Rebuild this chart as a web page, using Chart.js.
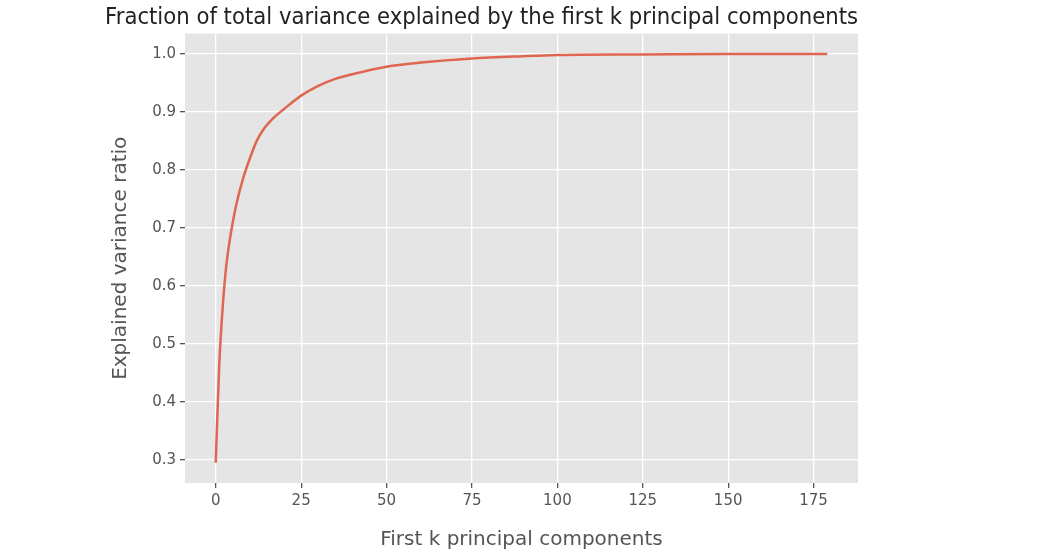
<!DOCTYPE html>
<html>
<head>
<meta charset="utf-8">
<script src="https://cdn.jsdelivr.net/npm/chart.js@4"></script>
<style>
  body { margin: 0; background: #fff; }
</style>
</head>
<body>
<canvas id="pcaChart" width="1044" height="552"></canvas>
<script>
// Components, with the cumulative ratio at each
const components = [0, 1, 2, 3, 4, 5, 6, 8, 10, 12, 14, 17, 20, 25, 30, 35, 40, 50, 60, 75, 90, 100, 125, 150, 179];
const explained = [0.295, 0.46, 0.56, 0.63, 0.675, 0.71, 0.74, 0.785, 0.82, 0.85, 0.87, 0.89, 0.905, 0.928, 0.945, 0.957, 0.965, 0.978, 0.985, 0.992, 0.996, 0.998, 0.999, 1.0, 1.0];
const xTicks = [0, 25, 50, 75, 100, 125, 150, 175];
const yTicks = [0.3, 0.4, 0.5, 0.6, 0.7, 0.8, 0.9, 1.0];

const points = components.map((k, i) => ({ x: k, y: explained[i] }));
const FONT = "'DejaVu Sans', sans-serif";

// gray panel behind the plot, ggplot style
const panelBg = {
    id: 'panelBg',
    beforeDraw(chart) {
        const { ctx, chartArea: a } = chart;
        ctx.save();
        ctx.fillStyle = '#e5e5e5';
        ctx.fillRect(a.left, a.top, a.right - a.left, a.bottom - a.top);
        ctx.restore();
    }
};

const ctx = document.getElementById('pcaChart').getContext('2d');
new Chart(ctx, {
    type: 'scatter',
    data: {
        datasets: [{
            data: points,
            showLine: true,
            borderColor: '#df6650',
            borderWidth: 2.5,
            pointRadius: 0,
            tension: 0.4,
            cubicInterpolationMode: 'monotone'
        }]
    },
    options: {
        responsive: false,
        animation: false,
        layout: { padding: { left: 105, right: 186, top: 0, bottom: 0 } },
        plugins: {
            legend: { display: false },
            tooltip: { enabled: false },
            title: {
                display: true,
                text: 'Fraction of total variance explained by the first k principal components',
                color: '#222',
                font: { family: FONT, size: 23, weight: 'normal' },
                padding: { top: 4, bottom: 2 }
            }
        },
        scales: {
            x: {
                type: 'linear',
                min: -9,
                max: 188,
                afterBuildTicks: s => { s.ticks = xTicks.map(v => ({ value: v })); },
                afterFit: s => { s.height = 69; },
                grid: { color: '#ffffff', lineWidth: 1.3, tickColor: '#555', tickLength: 5 },
                border: { display: false },
                ticks: { color: '#555', font: { family: FONT, size: 15 }, padding: 4 },
                title: {
                    display: true,
                    text: 'First k principal components',
                    color: '#555',
                    font: { family: FONT, size: 20 },
                    padding: { top: 2, bottom: 0 }
                }
            },
            y: {
                min: 0.26,
                max: 1.035,
                afterBuildTicks: s => { s.ticks = yTicks.map(v => ({ value: v })); },
                afterFit: s => { s.width = 80; },
                grid: { color: '#ffffff', lineWidth: 1.3, tickColor: '#555', tickLength: 5 },
                border: { display: false },
                ticks: {
                    color: '#555',
                    font: { family: FONT, size: 15 },
                    padding: 4,
                    callback: v => v.toFixed(1)
                },
                title: {
                    display: true,
                    text: 'Explained variance ratio',
                    color: '#555',
                    font: { family: FONT, size: 20 },
                    padding: { bottom: 0 }
                }
            }
        }
    },
    plugins: [panelBg]
});
</script>
</body>
</html>
